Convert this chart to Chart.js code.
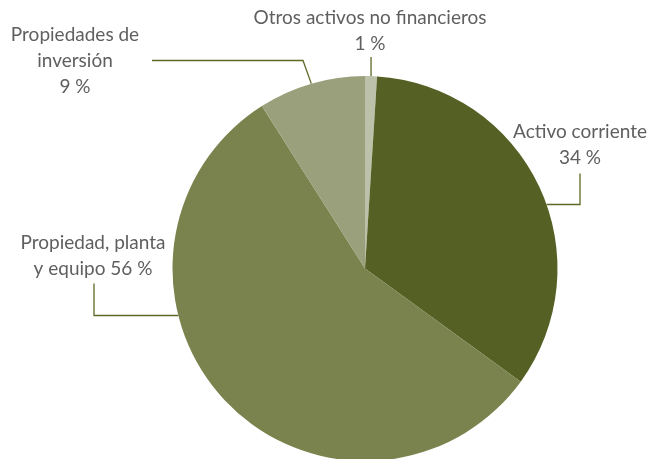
<!DOCTYPE html>
<html><head><meta charset="utf-8">
<script src="https://cdn.jsdelivr.net/npm/chart.js@4"></script>
<style>
html,body{margin:0;padding:0;background:#fff;overflow:hidden;width:663px;height:459px;}
#wrap{position:relative;width:663px;height:461px;}
</style></head>
<body><div id="wrap"><canvas id="c"></canvas></div>
<script>
const categories = ["Otros activos no financieros", "Activo corriente", "Propiedad, planta y equipo", "Propiedades de inversión"];
const values = [1, 34, 56, 9];
const labelLines = [
  ["Otros activos no financieros", "1 %"],
  ["Activo corriente", "34 %"],
  ["Propiedad, planta", "y equipo 56 %"],
  ["Propiedades de", "inversión", "9 %"]
];
const colors = ["#bcc2a9", "#556024", "#7a834d", "#9aa07b"];

const labelPlugin = {
  id: 'labels',
  afterDatasetsDraw(chart) {
    const ctx = chart.ctx;
    const arcs = chart.getDatasetMeta(0).data;
    const cx = arcs[0].x, cy = arcs[0].y, r = arcs[0].outerRadius;
    const mid = a => (a.startAngle + a.endAngle) / 2;
    const edge = ang => [cx + r * Math.cos(ang), cy + r * Math.sin(ang)];
    ctx.save();
    ctx.strokeStyle = "#5c6826";
    ctx.lineWidth = 1.3;
    let p = edge(mid(arcs[0]));
    ctx.beginPath(); ctx.moveTo(p[0], p[1]); ctx.lineTo(p[0], cy - r - 19); ctx.stroke();
    let y1 = cy - 64, x1 = cx + Math.sqrt(r*r - 64*64);
    ctx.beginPath(); ctx.moveTo(x1, y1); ctx.lineTo(cx + 215, y1); ctx.lineTo(cx + 215, cy - 95); ctx.stroke();
    let y2 = cy + 47, x2 = cx - Math.sqrt(r*r - 47*47);
    ctx.beginPath(); ctx.moveTo(x2, y2); ctx.lineTo(cx - 271, y2); ctx.lineTo(cx - 271, cy + 15); ctx.stroke();
    p = edge(mid(arcs[3]));
    ctx.beginPath(); ctx.moveTo(p[0], p[1]); ctx.lineTo(cx - 62, cy - 208); ctx.lineTo(cx - 213, cy - 208); ctx.stroke();

    ctx.fillStyle = "#5f5f5f";
    ctx.font = "19px Lato";
    ctx.textAlign = "center";
    ctx.textBaseline = "middle";
    const pos = [[cx + 5, cy - 251], [cx + 215, cy - 137], [cx - 272, cy - 26], [cx - 290, cy - 234]];
    labelLines.forEach((lines, i) => {
      lines.forEach((t, j) => ctx.fillText(t, pos[i][0], pos[i][1] + j * 26));
    });
    ctx.restore();
  }
};

new Chart(document.getElementById('c'), {
  type: 'pie',
  data: { labels: categories, datasets: [{ data: values, backgroundColor: colors, borderWidth: 0 }] },
  options: {
    responsive: true, maintainAspectRatio: false, animation: false,
    layout: { padding: { top: 76, bottom: 0, left: 100, right: 33 } },
    plugins: { legend: { display: false }, tooltip: { enabled: false } }
  },
  plugins: [labelPlugin]
});
</script></body></html>
